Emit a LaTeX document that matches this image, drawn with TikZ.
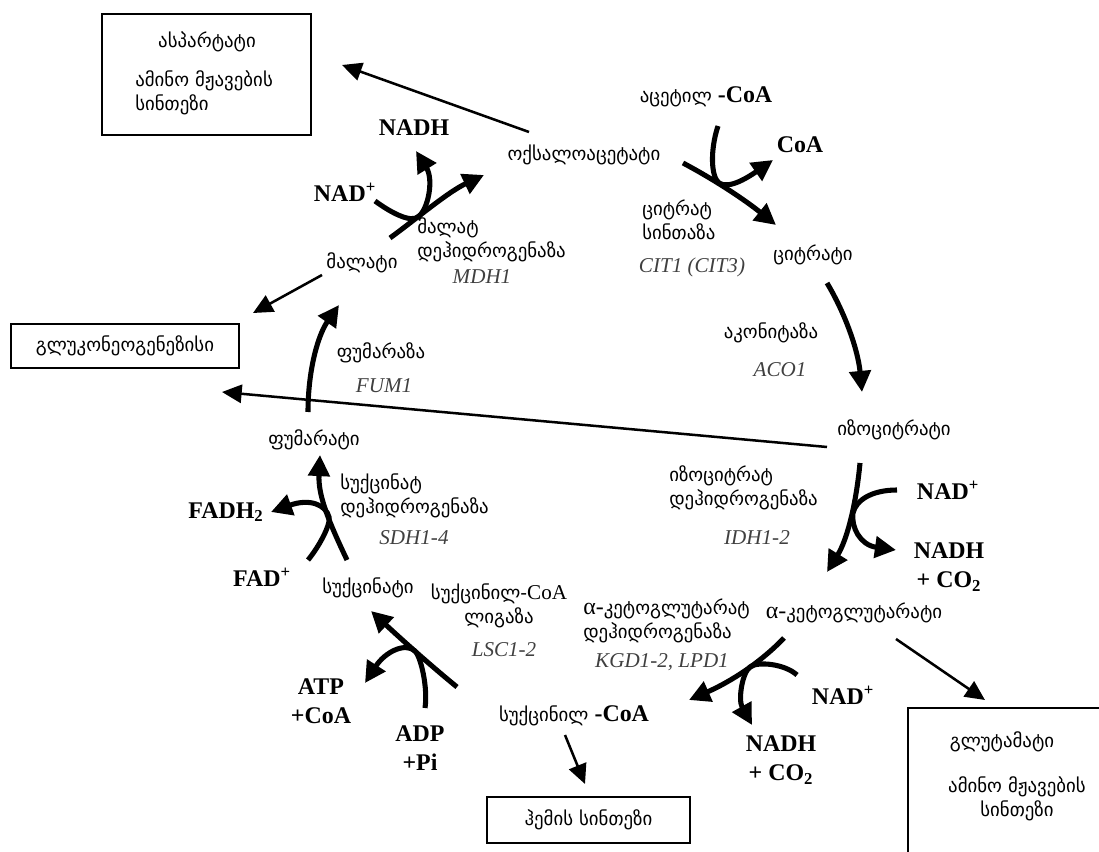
\documentclass[tikz,border=0pt]{standalone}
\usepackage{fontspec}
\setmainfont{Liberation Serif}
\newfontfamily\geofont{DejaVu Sans}
\newcommand{\geosize}{\geofont\fontsize{13.4}{17}\selectfont}
\newcommand{\chemsize}{\rmfamily\bfseries\fontsize{17}{21}\selectfont}
\usetikzlibrary{arrows.meta}

\begin{document}
\begin{tikzpicture}[x=0.025cm,y=-0.025cm,-{Triangle[length=15pt,width=15pt]}]

  \tikzstyle{geo}=[font=\geosize,inner sep=0pt]
  \tikzstyle{geoleft}=[geo,anchor=west,align=left]
  \tikzstyle{chem}=[font=\chemsize,inner sep=0pt,align=center]
  \tikzstyle{gene}=[font=\itshape\fontsize{15}{18}\selectfont,text=black!75,inner sep=0pt]
  \tikzstyle{boxnode}=[draw=black,line width=1.4pt,shape=rectangle]
  \tikzstyle{rxn}=[line width=3.6pt]
  \tikzstyle{thin}=[line width=1.8pt,-{Triangle[length=14pt,width=13pt]}]

  \useasboundingbox (0,0) rectangle (1099,852);

  \node[boxnode,minimum width=5.225cm,minimum height=3.025cm] (aspbox) at (206.5,74.5) {};
  \node[boxnode,minimum width=5.7cm,minimum height=1.1cm,font=\geosize] (glucbox) at (125,346) {გლუკონეოგენეზისი};
  \node[boxnode,minimum width=5.075cm,minimum height=1.15cm,font=\geosize] (hemebox) at (588.5,820) {ჰემის სინთეზი};
  \node[boxnode,minimum width=5.3cm,minimum height=4.3cm] (glubox) at (1014,794) {};

  \node[geo] (asp) at (207,42) {ასპარტატი};
  \node[geoleft] (aspsyn) at (135,93) {ამინო მჟავების\\სინთეზი};
  \node[geo] (glu) at (1002,742) {გლუტამატი};
  \node[geo,align=center] (glusyn) at (1017,799) {ამინო მჟავების\\სინთეზი};

  \node[geo] (oaa)   at (584,155) {ოქსალოაცეტატი};
  \node[geo] (acoa)  at (706,97)  {აცეტილ {\chemsize -CoA}};
  \node[geo] (cit)   at (813,255) {ციტრატი};
  \node[geo] (icit)  at (894,430) {იზოციტრატი};
  \node[geo] (akg)   at (854,613) {{\rmfamily\fontsize{17}{17}\selectfont α-}კეტოგლუტარატი};
  \node[geo] (sucoa) at (574,716) {სუქცინილ {\chemsize -CoA}};
  \node[geo] (suc)   at (368,588) {სუქცინატი};
  \node[geo] (fum)   at (314,440) {ფუმარატი};
  \node[geo] (mal)   at (362,263) {მალატი};

  \node[geoleft] (mdhname) at (417,240) {მალატ\\დეჰიდროგენაზა};
  \node[gene]    (mdhgene) at (482,277) {MDH1};
  \node[geoleft] (csname)  at (642,220) {ციტრატ\\სინთაზა};
  \node[gene]    (csgene)  at (692,267) {CIT1 (CIT3)};
  \node[geo]     (aconame) at (771,333) {აკონიტაზა};
  \node[gene]    (acogene) at (780,370) {ACO1};
  \node[geoleft] (idhname) at (669,488) {იზოციტრატ\\დეჰიდროგენაზა};
  \node[gene]    (idhgene) at (757,538) {IDH1-2};
  \node[geoleft] (kgdname) at (583,621) {{\rmfamily\fontsize{17}{17}\selectfont α-}კეტოგლუტარატ\\დეჰიდროგენაზა};
  \node[gene]    (kgdgene) at (662,662) {KGD1-2, LPD1};
  \node[geo,align=center] (lscname) at (499,606) {სუქცინილ-{\rmfamily\fontsize{15}{15}\selectfont CoA}\\ლიგაზა};
  \node[gene]    (lscgene) at (504,650) {LSC1-2};
  \node[geoleft] (sdhname) at (340,496) {სუქცინატ\\დეჰიდროგენაზა};
  \node[gene]    (sdhgene) at (414,538) {SDH1-4};
  \node[geo]     (fumname) at (381,353) {ფუმარაზა};
  \node[gene]    (fumgene) at (384,386) {FUM1};

  \node[chem] (mdhnadh) at (414,128) {NADH};
  \node[chem] (mdhnad)  at (345,192) {NAD\textsuperscript{+}};
  \node[chem] (coa)     at (800,145) {CoA};
  \node[chem] (idhnad)  at (948,490) {NAD\textsuperscript{+}};
  \node[chem] (idhnadh) at (949,567) {NADH\\+ CO\textsubscript{2}};
  \node[chem] (kgdnad)  at (843,695) {NAD\textsuperscript{+}};
  \node[chem] (kgdnadh) at (781,760) {NADH\\+ CO\textsubscript{2}};
  \node[chem] (atp)     at (321,701) {ATP\\+CoA};
  \node[chem] (adp)     at (420,748) {ADP\\+Pi};
  \node[chem] (fadh)    at (226,512) {FADH\textsubscript{2}};
  \node[chem] (fad)     at (262,577) {FAD\textsuperscript{+}};

  \coordinate (mdhA) at (390,238);
  \coordinate (mdhB) at (484,175);
  \coordinate (mdhC) at (375,201);
  \coordinate (mdhP) at (418,217);
  \coordinate (mdhD) at (416,151);
  \coordinate (csA)  at (683,163);
  \coordinate (csB)  at (776,225);
  \coordinate (csC)  at (718,126);
  \coordinate (csP)  at (719,183);
  \coordinate (csD)  at (773,160);
  \coordinate (acoA) at (827,283);
  \coordinate (acoB) at (862,392);
  \coordinate (idhA) at (860,463);
  \coordinate (idhB) at (827,572);
  \coordinate (idhC) at (897,490);
  \coordinate (idhP) at (853,513);
  \coordinate (idhD) at (896,550);
  \coordinate (kgdA) at (784,638);
  \coordinate (kgdB) at (689,700);
  \coordinate (kgdC) at (797,675);
  \coordinate (kgdP) at (750,667);
  \coordinate (kgdD) at (752,725);
  \coordinate (lscA) at (457,687);
  \coordinate (lscB) at (371,611);
  \coordinate (lscC) at (425,708);
  \coordinate (lscP) at (415,651);
  \coordinate (lscD) at (365,683);
  \coordinate (sdhA) at (347,560);
  \coordinate (sdhB) at (320,455);
  \coordinate (sdhC) at (308,560);
  \coordinate (sdhP) at (329,517);
  \coordinate (sdhD) at (271,512);
  \coordinate (fumA) at (308,412);
  \coordinate (fumB) at (339,305);

  \draw[rxn] (mdhA) .. controls (420,216) and (448,192) .. (mdhB);
  \draw[rxn] (mdhC) .. controls (390,212) and (410,223) .. (mdhP)
                    .. controls (428,210) and (434,180) .. (mdhD);
  \draw[rxn] (csA)  .. controls (715,180) and (745,200) .. (csB);
  \draw[rxn] (csC)  .. controls (710,150) and (711,177) .. (csP)
                    .. controls (729,190) and (750,176) .. (csD);
  \draw[rxn] (acoA) .. controls (845,313) and (858,350) .. (acoB);
  \draw[rxn] (idhA) .. controls (856,505) and (847,540) .. (idhB);
  \draw[rxn] (idhC) .. controls (872,490) and (856,500) .. (idhP)
                    .. controls (851,527) and (860,545) .. (idhD);
  \draw[rxn] (kgdA) .. controls (760,663) and (730,682) .. (kgdB);
  \draw[rxn] (kgdC) .. controls (785,664) and (758,661) .. (kgdP)
                    .. controls (742,673) and (738,700) .. (kgdD);
  \draw[rxn] (lscA) .. controls (430,665) and (400,638) .. (lscB);
  \draw[rxn] (lscC) .. controls (428,688) and (421,657) .. (lscP)
                    .. controls (405,642) and (385,652) .. (lscD);
  \draw[rxn] (sdhA) .. controls (328,520) and (318,495) .. (sdhB);
  \draw[rxn] (sdhC) .. controls (318,548) and (331,525) .. (sdhP)
                    .. controls (326,505) and (310,498) .. (sdhD);
  \draw[rxn] (fumA) .. controls (308,370) and (318,335) .. (fumB);

  \coordinate (oaaout) at (529,132);
  \coordinate (aspin)  at (342,65);
  \coordinate (malout) at (322,275);
  \coordinate (glucin) at (253,313);
  \coordinate (icitout) at (827,447);
  \coordinate (glucin2) at (222,392);
  \coordinate (akgout) at (896,639);
  \coordinate (gluin)  at (985,700);
  \coordinate (sucout) at (565,735);
  \coordinate (hemein) at (585,784);

  \draw[thin] (oaaout) -- (aspin);
  \draw[thin] (malout) -- (glucin);
  \draw[thin] (icitout) -- (glucin2);
  \draw[thin] (akgout) -- (gluin);
  \draw[thin] (sucout) -- (hemein);
\end{tikzpicture}
\end{document}
